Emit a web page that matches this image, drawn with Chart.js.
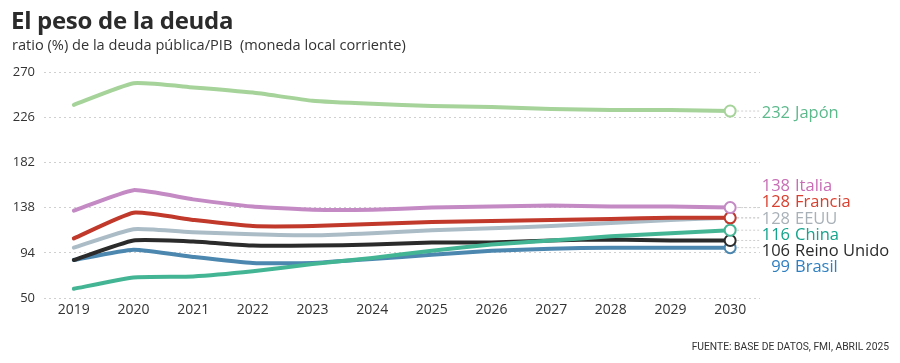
<!DOCTYPE html>
<html>
<head>
<meta charset="utf-8">
<script src="https://cdn.jsdelivr.net/npm/chart.js@4"></script>
<style>
  body { margin: 0; background: #fff; font-family: "Open Sans", sans-serif; }
  #wrap { position: relative; width: 900px; height: 363px; }
  #titulo { position: absolute; left: 11px; top: 3px; font-size: 24px; font-weight: 700; color: #2b2b2b; letter-spacing: -0.3px; }
  #sub { position: absolute; left: 12px; top: 34px; font-size: 14.6px; color: #333; }
  #fuente { position: absolute; right: 11px; top: 340px; font-family: Roboto, sans-serif; font-size: 10.3px; color: #333; }
  canvas { position: absolute; left: 0; top: 0; }
</style>
</head>
<body>
<div id="wrap">
  <canvas id="chartDeuda" width="900" height="363"></canvas>
  <div id="titulo">El peso de la deuda</div>
  <div id="sub">ratio (%) de la deuda pública/PIB&nbsp; (moneda local corriente)</div>
  <div id="fuente">FUENTE: BASE DE DATOS, FMI, ABRIL 2025</div>
</div>
<script>
const anios = ["2019", "2020", "2021", "2022", "2023", "2024", "2025", "2026", "2027", "2028", "2029", "2030"];
const yTicks = [50, 94, 138, 182, 226, 270];

const japon   = [238, 259, 255, 250, 242, 239, 237, 236, 234, 233, 233, 232];
const italia  = [135, 155, 146, 139, 136, 136, 138, 139, 140, 139, 139, 138];
const francia = [108, 133, 126, 120, 120, 122, 124, 125, 126, 127, 128, 128];
const eeuu    = [99, 117, 114, 112, 111, 113, 116, 118, 120, 123, 126, 128];
const reinoUnido = [87, 106, 105, 101, 101, 102, 104, 104, 106, 107, 106, 106];
const brasil  = [87, 97, 90, 84, 84, 88, 92, 96, 98, 99, 99, 99];
const china   = [59, 70, 71, 76, 83, 89, 96, 102, 106, 110, 113, 116];

const series = [
  { nombre: "Japón", data: japon, linea: "#a5d39a", texto: "#5cb98c" },
  { nombre: "Italia", data: italia, linea: "#c48ac4", texto: "#c86db5" },
  { nombre: "Francia", data: francia, linea: "#c0392b", texto: "#d9402f" },
  { nombre: "EEUU", data: eeuu, linea: "#abbcc7", texto: "#a9b1b8" },
  { nombre: "China", data: china, linea: "#44b594", texto: "#14a38c" },
  { nombre: "Reino Unido", data: reinoUnido, linea: "#2b2b2b", texto: "#2b2b2b" },
  { nombre: "Brasil", data: brasil, linea: "#4c87b0", texto: "#2d7fc1" },
];

const ultimo = anios.length - 1;

// etiquetas a la derecha con punto final
const etiquetas = {
  id: "etiquetas",
  afterDatasetsDraw(chart) {
    const { ctx, scales } = chart;
    const xEnd = scales.x.getPixelForValue(ultimo);
    const items = series.map((s) => ({ s, y: scales.y.getPixelForValue(s.data[ultimo]) }));
    // japon solo, el resto se reparte
    const grupo = items.slice(1).sort((a, b) => a.y - b.y);
    const gap = 16.2;
    const media = grupo.reduce((t, i) => t + i.y, 0) / grupo.length;
    grupo.forEach((it, i) => { it.ly = media + (i - (grupo.length - 1) / 2) * gap; });
    items[0].ly = items[0].y + 2;

    ctx.save();
    ctx.setLineDash([2, 2]);
    ctx.strokeStyle = "#cfcfcf";
    ctx.lineWidth = 1;
    items.forEach((it) => {
      ctx.beginPath();
      ctx.moveTo(xEnd + 7, it.y);
      ctx.lineTo(760, it.y);
      ctx.stroke();
    });
    ctx.setLineDash([]);
    ctx.font = "16.5px 'Open Sans', sans-serif";
    ctx.textBaseline = "middle";
    items.forEach((it) => {
      ctx.fillStyle = it.s.texto;
      ctx.textAlign = "right";
      ctx.fillText(String(it.s.data[ultimo]), 790, it.ly);
      ctx.textAlign = "left";
      ctx.fillText(it.s.nombre, 795, it.ly);
    });
    ctx.restore();
  },
};

new Chart(document.getElementById("chartDeuda").getContext("2d"), {
  type: "line",
  data: {
    labels: anios,
    datasets: series.map((s) => ({
      label: s.nombre,
      data: s.data,
      borderColor: s.linea,
      borderWidth: 4,
      tension: 0.15,
      fill: false,
      pointRadius: (c) => (c.dataIndex === ultimo ? 5.5 : 0),
      pointBackgroundColor: "#fff",
      pointBorderColor: s.linea,
      pointBorderWidth: 2,
      borderCapStyle: "round",
    })),
  },
  options: {
    responsive: false,
    animation: false,
    layout: { padding: { top: 72, right: 140, bottom: 35, left: 0 } },
    plugins: { legend: { display: false }, tooltip: { enabled: false } },
    scales: {
      x: {
        offset: true,
        grid: { display: false, drawTicks: false },
        border: { display: false },
        ticks: { color: "#333", font: { size: 14, family: "'Open Sans', sans-serif" }, padding: 4 },
        afterFit: (a) => { a.height = 30; },
      },
      y: {
        min: 50,
        max: 270,
        afterBuildTicks: (a) => { a.ticks = yTicks.map((v) => ({ value: v })); },
        grid: { color: "#d0d0d0", lineWidth: 1, drawTicks: false },
        border: { display: false, dash: [2, 3] },
        ticks: { color: "#333", font: { size: 13, family: "'Open Sans', sans-serif" }, padding: 9 },
        afterFit: (a) => { a.width = 44; },
      },
    },
  },
  plugins: [etiquetas],
});
</script>
</body>
</html>
